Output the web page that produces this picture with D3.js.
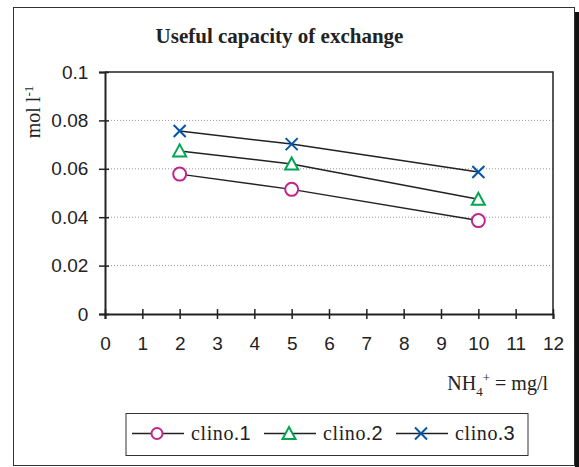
<!DOCTYPE html>
<html>
<head>
<meta charset="utf-8">
<script src="https://cdn.jsdelivr.net/npm/d3@7"></script>
<style>
  body { margin: 0; background: #fff; }
  svg { display: block; }
</style>
</head>
<body>
<svg width="579" height="467"></svg>
<script>
var xValues = [2, 5, 10];
var clino1 = [0.0578, 0.0515, 0.0386];
var clino2 = [0.0674, 0.0620, 0.0474];
var clino3 = [0.0756, 0.0702, 0.0587];
var seriesNames = ["clino.", "clino.", "clino."];
var seriesNums = ["1", "2", "3"];
var seriesColors = ["#c0268a", "#00a650", "#0056a8"];
var xTicks = d3.range(0, 13);
var yTicks = [0, 0.02, 0.04, 0.06, 0.08, 0.1];

var svg = d3.select("svg");

var margin = {left: 105, top: 72, right: 553, bottom: 314};

var x = d3.scaleLinear().domain([0, 12]).range([margin.left, margin.right]);
var y = d3.scaleLinear().domain([0, 0.1]).range([margin.bottom, margin.top]);

var serif = "'Liberation Serif', 'Times New Roman', serif";
var sans = "'Liberation Sans', Arial, sans-serif";

// outer frame with shadow on the right
svg.append("rect")
    .attr("x", 575).attr("y", 12).attr("width", 4).attr("height", 455)
    .attr("fill", "#111");
svg.append("rect")
    .attr("x", 13.5).attr("y", 7.5).attr("width", 561).attr("height", 458)
    .attr("fill", "#fff").attr("stroke", "#333").attr("stroke-width", 1);

// title
svg.append("text")
    .attr("x", 279.5).attr("y", 42.5)
    .attr("text-anchor", "middle")
    .style("font-family", serif)
    .style("font-weight", "bold")
    .style("font-size", "21px")
    .attr("fill", "#222")
    .text("Useful capacity of exchange");

// gridlines
svg.append("g")
  .selectAll("line")
  .data(yTicks.filter(d => d > 0 && d < 0.1))
  .enter().append("line")
    .attr("x1", margin.left).attr("x2", margin.right)
    .attr("y1", d => y(d)).attr("y2", d => y(d))
    .attr("stroke", "#999")
    .attr("stroke-width", 1)
    .attr("stroke-dasharray", "1,2");

// plot border (top and right)
svg.append("path")
    .attr("d", "M" + margin.left + "," + margin.top + "H" + margin.right + "V" + margin.bottom)
    .attr("fill", "none")
    .attr("stroke", "#222")
    .attr("stroke-width", 1.5);

// y axis
var yAxis = svg.append("g")
    .attr("transform", "translate(" + margin.left + ",0)")
    .call(d3.axisLeft(y).tickValues(yTicks).tickFormat(d3.format("")).tickSize(6).tickPadding(10.7));
yAxis.selectAll(".tick line").attr("x2", -6).attr("x1", 4);

// x axis
var xAxis = svg.append("g")
    .attr("transform", "translate(0," + margin.bottom + ")")
    .call(d3.axisBottom(x).tickValues(xTicks).tickSize(5).tickPadding(17.5));
xAxis.selectAll(".tick line").attr("y1", -5);

[yAxis, xAxis].forEach(function(a) {
  a.select(".domain").attr("stroke", "#222").attr("stroke-width", 2);
  a.selectAll(".tick line").attr("stroke", "#222").attr("stroke-width", 1.5);
  a.selectAll(".tick text")
      .attr("fill", "#222")
      .style("font-family", sans)
      .style("font-size", "19px");
});

// y label
var yl = svg.append("text")
    .attr("transform", "translate(40,112) rotate(-90)")
    .attr("text-anchor", "middle")
    .style("font-family", serif)
    .style("font-size", "20px")
    .attr("fill", "#222");
yl.append("tspan").text("mol l");
yl.append("tspan").attr("dy", -7).style("font-size", "13px").text("-1");

// x label
var xl = svg.append("text")
    .attr("x", 548).attr("y", 390)
    .attr("text-anchor", "end")
    .style("font-family", serif)
    .style("font-size", "20px")
    .attr("fill", "#222");
xl.append("tspan").text("NH");
xl.append("tspan").attr("dy", 6).style("font-size", "13px").text("4");
xl.append("tspan").attr("dy", -14).style("font-size", "13px").text("+");
xl.append("tspan").attr("dy", 8).text(" = mg/l");

// series
var series = [clino1, clino2, clino3].map(function(vals, i) {
  return {name: seriesNames[i], num: seriesNums[i], color: seriesColors[i], type: i,
          points: vals.map((v, j) => ({x: xValues[j], y: v}))};
});

var line = d3.line().x(d => x(d.x)).y(d => y(d.y));

svg.append("g").selectAll("path")
  .data(series)
  .enter().append("path")
    .attr("d", d => line(d.points))
    .attr("fill", "none")
    .attr("stroke", "#222")
    .attr("stroke-width", 1.5);

function drawMarker(g, type, color, r) {
  if (type === 0) {
    g.append("circle").attr("r", r)
        .attr("fill", "#fff").attr("stroke", color).attr("stroke-width", 2);
  } else if (type === 1) {
    g.append("path").attr("d", "M0,-6.5L6.5,5.5L-6.5,5.5Z")
        .attr("fill", "#fff").attr("stroke", color).attr("stroke-width", 2);
  } else {
    g.append("path").attr("d", "M-6,-6L6,6M-6,6L6,-6")
        .attr("fill", "none").attr("stroke", color).attr("stroke-width", 2);
  }
}

series.forEach(function(s) {
  s.points.forEach(function(p) {
    var g = svg.append("g").attr("transform", "translate(" + x(p.x) + "," + y(p.y) + ")");
    drawMarker(g, s.type, s.color, 6.5);
  });
});

// legend
svg.append("rect")
    .attr("x", 126).attr("y", 413.5).attr("width", 402).attr("height", 42)
    .attr("fill", "#fff").attr("stroke", "#333").attr("stroke-width", 1);

var legendX = [132, 264, 396];
series.forEach(function(s, i) {
  var lx = legendX[i], ly = 433.5;
  svg.append("line")
      .attr("x1", lx).attr("x2", lx + 52).attr("y1", ly).attr("y2", ly)
      .attr("stroke", "#222").attr("stroke-width", 1.5);
  var g = svg.append("g").attr("transform", "translate(" + (lx + 25) + "," + ly + ")");
  drawMarker(g, s.type, s.color, 5.5);
  var t = svg.append("text")
      .attr("x", lx + 59).attr("y", 439.5)
      .attr("fill", "#222")
      .style("font-size", "20px");
  t.append("tspan").style("font-family", serif).style("letter-spacing", "0.6px").text(s.name);
  t.append("tspan").style("font-family", sans).text(s.num);
});
</script>
</body>
</html>
